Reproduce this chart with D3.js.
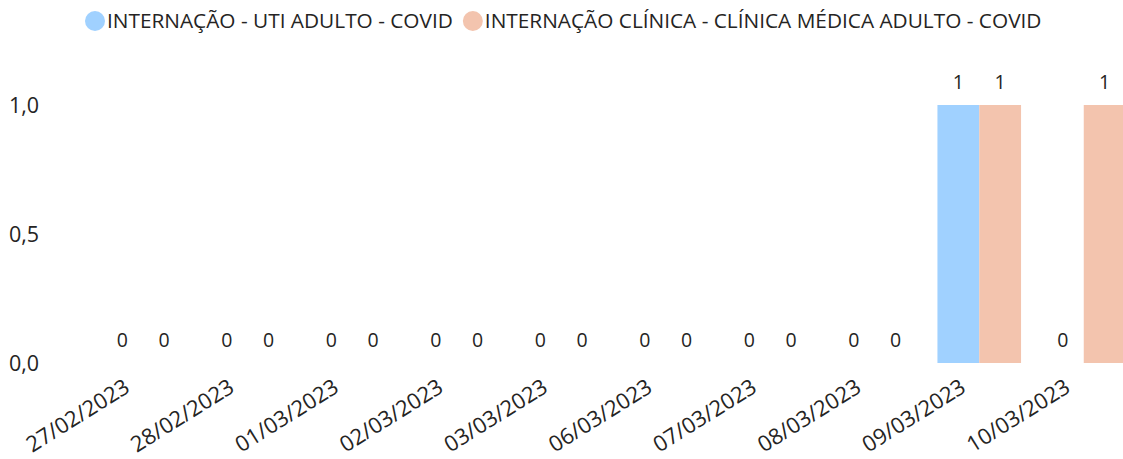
<!DOCTYPE html>
<html><head><meta charset="utf-8">
<script src="https://cdn.jsdelivr.net/npm/d3@7"></script>
<style>body{margin:0;background:#fff}svg{display:block}text{font-family:"Open Sans","Noto Sans",sans-serif;fill:#252423}</style>
</head><body>
<svg id="c" width="1123" height="459"></svg>
<script>
const categories = ["27/02/2023","28/02/2023","01/03/2023","02/03/2023","03/03/2023","06/03/2023","07/03/2023","08/03/2023","09/03/2023","10/03/2023"];
const seriesNames = ["INTERNAÇÃO - UTI ADULTO - COVID","INTERNAÇÃO CLÍNICA - CLÍNICA MÉDICA ADULTO - COVID"];
const uti = [0,0,0,0,0,0,0,0,1,0];
const clinica = [0,0,0,0,0,0,0,0,1,1];
const yTicks = [0,0.5,1];
const colors = ["#A0D1FF","#F3C4AE"];
const series = [uti, clinica];

const svg = d3.select("#c");
const x0 = d3.scaleBand().domain(categories).range([91, 1136]).paddingInner(0.2).paddingOuter(0.1);
const x1 = d3.scaleBand().domain([0,1]).range([0, x0.bandwidth()]);
const y = d3.scaleLinear().domain([0,1]).range([363,105]);

// y axis labels
svg.append("g").selectAll("text").data(yTicks).join("text")
  .attr("x", 9).attr("y", d=>y(d)).attr("dy","0.36em")
  .attr("font-size", 21.5)
  .text(d=>d3.format(".1f")(d).replace(".",","));

// bars
const g = svg.append("g");
categories.forEach((c,i)=>{
  series.forEach((s,j)=>{
    const v = s[i];
    const bx = x0(c)+x1(j);
    if (v>0) g.append("rect").attr("x",bx).attr("y",y(v)).attr("width",x1.bandwidth()).attr("height",y(0)-y(v)).attr("fill",colors[j]);
    g.append("text").attr("x",bx+x1.bandwidth()/2).attr("y",y(v)-23).attr("dy","0.36em")
      .attr("text-anchor","middle").attr("font-size",19.5).text(v);
  });
});

// x axis labels
svg.append("g").selectAll("text").data(categories).join("text")
  .attr("transform", d=>`translate(${x0(d)+x0.bandwidth()/2-12},${391}) rotate(-32)`)
  .attr("text-anchor","end").attr("font-size",22)
  .text(d=>d);

// legend
const leg = svg.append("g");
let lx = 95;
seriesNames.forEach((n,i)=>{
  leg.append("circle").attr("cx",lx).attr("cy",21).attr("r",10).attr("fill",colors[i]);
  const t = leg.append("text").attr("x",lx+12).attr("y",21).attr("dy","0.36em").attr("font-size",20.8).text(n);
  lx = lx + 12 + t.node().getComputedTextLength() + 20;
});
</script>
</body></html>
